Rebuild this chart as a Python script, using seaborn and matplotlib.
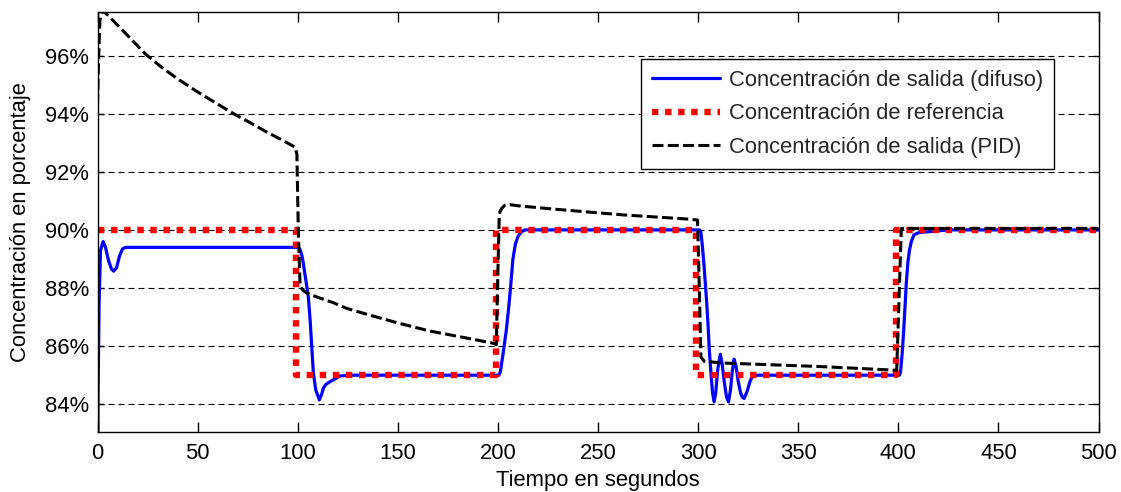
import matplotlib
matplotlib.use("Agg")
import matplotlib.pyplot as plt
import seaborn as sns
import pandas as pd
from matplotlib.ticker import FuncFormatter

# ---------------- data ----------------
t_ref = [0, 99, 99, 199, 199, 299, 299, 399, 399, 500]
ref = [90, 90, 85, 85, 90, 90, 85, 85, 90, 90]

t_difuso = [0, 0.3, 0.8, 1.5, 2.8, 4, 5.5, 7, 8.1, 9.5, 11, 12.5, 14,
            100.3, 101, 102, 102.8, 104, 105.3, 106.2, 107, 107.8, 109, 110.8,
            112, 112.8, 114, 116, 118, 121, 125,
            200.5, 201.2, 202.5, 204.2, 205.2, 206.2, 207.5, 208.7, 210, 211.5, 213.4,
            300.8, 301.4, 302.2, 303, 304.2, 305, 305.6, 306.5, 307.2, 308, 308.8,
            309.8, 311.1, 312, 313.2, 314.2, 315.2, 316.2, 317, 318, 319, 320,
            321.2, 322, 323, 324.5, 326, 327, 329, 331,
            400.6, 401.1, 402, 402.8, 404, 404.8, 405.6, 406.5, 407.8, 410, 412,
            415.3, 420, 425, 500]
difuso = [80.0, 84.4, 87.5, 89.3, 89.6, 89.4, 88.95, 88.65, 88.58, 88.7, 89.1, 89.35, 89.4,
          89.4, 89.35, 89.15, 88.85, 88.3, 87.7, 86.9, 86.0, 85.1, 84.5, 84.15,
          84.35, 84.55, 84.68, 84.77, 84.85, 84.97, 85.0,
          85.0, 85.11, 85.7, 86.55, 87.2, 87.93, 89.0, 89.5, 89.77, 89.92, 90.0,
          90.0, 89.92, 89.4, 88.73, 87.59, 86.7, 85.86, 85.0, 84.4, 84.08, 84.4,
          85.2, 85.72, 85.4, 84.7, 84.25, 84.08, 84.5, 85.1, 85.55, 85.3, 84.8,
          84.4, 84.25, 84.2, 84.45, 84.8, 84.94, 85.0, 85.0,
          85.0, 85.11, 85.8, 86.67, 88.17, 88.9, 89.31, 89.6, 89.83, 89.9, 89.92,
          89.94, 89.97, 90.0, 90.0]

t_pid = [0, 0.5, 1.2, 2.3, 5, 10, 17, 24, 32, 40, 50, 60, 68, 76, 85, 92, 98.7,
         99.6, 100.3, 101.2, 103, 104.5, 110, 117.6, 124.5, 134.4, 141, 151, 166,
         184.3, 197.6, 199.2, 199.8, 200.6, 201, 202, 203.5, 206, 210, 229, 262,
         280, 295.6, 299.7, 300.6, 301.4, 303, 312, 332, 360, 399.2, 400.3, 401.5, 500]
pid = [94.3, 95.8, 97.2, 97.55, 97.4, 97.05, 96.55, 96.05, 95.6, 95.2, 94.75, 94.33, 94.0,
       93.7, 93.35, 93.1, 92.85,
       92.6, 90.0, 88.05, 87.9, 87.83, 87.68, 87.5, 87.3, 87.1, 86.97, 86.78, 86.52,
       86.28, 86.1, 86.05, 88.0, 90.3, 90.63, 90.75, 90.85, 90.87, 90.83, 90.71, 90.52,
       90.44, 90.37, 90.34, 88.0, 85.63, 85.48, 85.42, 85.37, 85.3, 85.17, 87.5, 90.05, 90.05]

yticks = [84, 86, 88, 90, 92, 94, 96]
xticks = [0, 50, 100, 150, 200, 250, 300, 350, 400, 450, 500]

lab_difuso = "Concentración de salida (difuso)"
lab_ref = "Concentración de referencia"
lab_pid = "Concentración de salida (PID)"

# ---------------- style ----------------
sns.set_style("white")
plt.rcParams["font.family"] = ["Liberation Sans", "DejaVu Sans"]
FS = 15.8

fig = plt.figure(figsize=(11.21, 4.92), dpi=100)
ax = fig.add_axes([97.5 / 1121, 1 - 432 / 492, 1001 / 1121, 420 / 492])

df_d = pd.DataFrame({"t": t_difuso, "v": difuso})
df_r = pd.DataFrame({"t": t_ref, "v": ref})
df_p = pd.DataFrame({"t": t_pid, "v": pid})

sns.lineplot(data=df_d, x="t", y="v", ax=ax, color="#0000ff", linewidth=2.3,
             estimator=None, sort=False, label=lab_difuso)
sns.lineplot(data=df_r, x="t", y="v", ax=ax, color="#ff0000", linewidth=4.6,
             estimator=None, sort=False, label=lab_ref)
sns.lineplot(data=df_p, x="t", y="v", ax=ax, color="#000000", linewidth=2.2,
             estimator=None, sort=False, label=lab_pid)

l_d, l_r, l_p = ax.lines[0], ax.lines[1], ax.lines[2]
l_r.set_dashes((1.0, 1.05))
l_r.set_dash_capstyle("butt")
l_p.set_dashes((3.6, 1.4))

ax.set_xlim(0, 500)
ax.set_ylim(83.045, 97.5)
ax.set_xticks(xticks)
ax.set_yticks(yticks)
ax.yaxis.set_major_formatter(FuncFormatter(lambda v, p: f"{v:.0f}%"))

ax.grid(axis="y", color="black", linewidth=0.8, linestyle=(0, (5.4, 3.6)))
ax.grid(axis="x", visible=False)
ax.set_axisbelow(True)

for s in ax.spines.values():
    s.set_color("black")
    s.set_linewidth(1.0)
    s.set_visible(True)

ax.tick_params(axis="x", direction="in", length=7.5, width=1, top=True, bottom=True,
               labelsize=FS, colors="black", pad=8)
ax.tick_params(axis="y", direction="in", length=4.5, width=1, left=True, right=True,
               labelsize=FS, colors="black", pad=6)

ax.set_xlabel("Tiempo en segundos", fontsize=FS, color="black", labelpad=4)
ax.set_ylabel("Concentración en porcentaje", fontsize=FS, color="black", labelpad=10)

leg = ax.legend(handles=[l_d, l_r, l_p], labels=[lab_difuso, lab_ref, lab_pid],
                loc="upper left", bbox_to_anchor=(0.543, 0.888), borderaxespad=0,
                fontsize=FS, handlelength=3.1, handletextpad=0.4, labelspacing=0.56,
                borderpad=0.5, fancybox=False, framealpha=1, edgecolor="black")
leg.get_frame().set_linewidth(1.0)

fig.savefig("out.png", dpi=100)
